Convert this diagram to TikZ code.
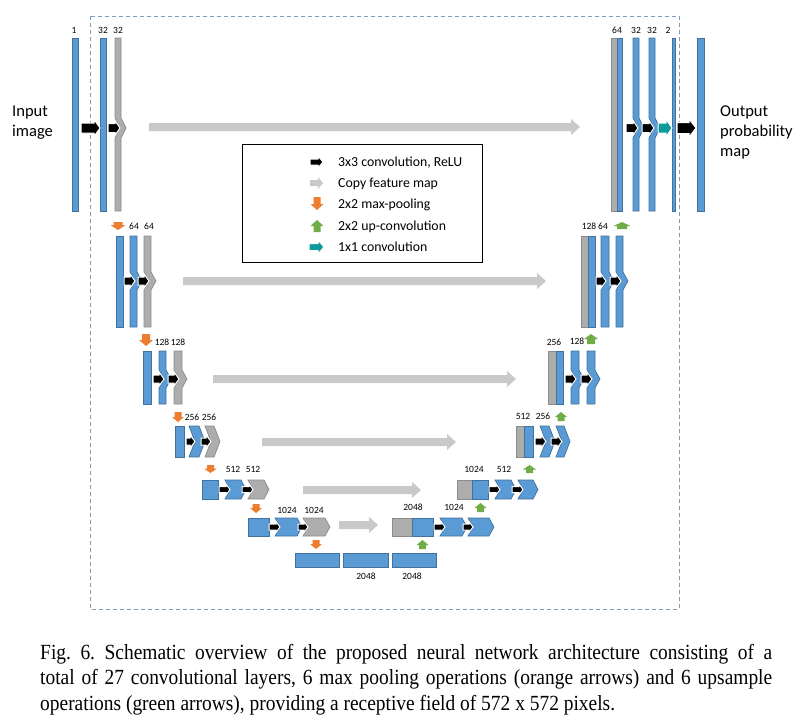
\documentclass[tikz,border=0pt]{standalone}
\usepackage{fontspec}
\setmainfont{Carlito}
\newfontfamily\capfont[FakeStretch=0.9]{Liberation Serif}
\usetikzlibrary{positioning}

\definecolor{fmblue}{HTML}{5B9BD5}
\definecolor{fmblueD}{HTML}{41719C}
\definecolor{fmgray}{HTML}{ADADAD}
\definecolor{fmgrayD}{HTML}{8C8C8C}
\definecolor{cpgray}{HTML}{C9C9C9}
\definecolor{poolor}{HTML}{ED7D31}
\definecolor{upgreen}{HTML}{70AD47}
\definecolor{outteal}{HTML}{0E9A9A}
\definecolor{boxblue}{HTML}{7F9DBB}

% feature map bar, chevron bar, block arrows (right, down, up)
\newcommand{\fmap}[5]{\draw[#5] (#1,#3) rectangle (#2,#4);}
\newcommand{\chev}[8]{\draw[#8] (#1,#3) -- (#2,#3) -- (#2,#5-#6) -- (#2+#7,#5) -- (#2,#5+#6) -- (#2,#4) -- (#1,#4) -- (#1,#5+#6) -- (#1+#7,#5) -- (#1,#5-#6) -- cycle;}
\newcommand{\harr}[7]{\draw[#7] (#1,#3-#4) -- (#2-#6,#3-#4) -- (#2-#6,#3-#5) -- (#2,#3) -- (#2-#6,#3+#5) -- (#2-#6,#3+#4) -- (#1,#3+#4) -- cycle;}
\newcommand{\darr}[7]{\draw[#7] (#1-#4,#2) -- (#1+#4,#2) -- (#1+#4,#3-#6) -- (#1+#5,#3-#6) -- (#1,#3) -- (#1-#5,#3-#6) -- (#1-#4,#3-#6) -- cycle;}
\newcommand{\uarr}[7]{\draw[#7] (#1-#4,#3) -- (#1+#4,#3) -- (#1+#4,#2+#6) -- (#1+#5,#2+#6) -- (#1,#2) -- (#1-#5,#2+#6) -- (#1-#4,#2+#6) -- cycle;}

\begin{document}
\frenchspacing
\begin{tikzpicture}[
  x=1pt,y=-1pt,
  bl/.style={fill=fmblue,draw=fmblueD,line width=0.7pt},
  gr/.style={fill=fmgray,draw=fmgrayD,line width=0.7pt},
  conv/.style={fill=black,draw=white,line width=1pt},
  cpy/.style={fill=cpgray,draw=none},
  pool/.style={fill=poolor,draw=none},
  upc/.style={fill=upgreen,draw=none},
  oneconv/.style={fill=outteal,draw=white,line width=1pt},
  lbl/.style={font=\fontsize{9.5}{11}\selectfont,inner sep=0pt},
  leg/.style={font=\fontsize{13.8}{16}\selectfont,inner sep=0pt,anchor=base west},
  side/.style={font=\fontsize{16.5}{20}\selectfont,inner sep=0pt,anchor=base west}
]
\useasboundingbox (0,0) rectangle (809,716);
\draw[boxblue,line width=0.9pt,dash pattern=on 4pt off 3pt] (90,16) rectangle (679,609);

% copy feature maps
\harr{149}{580}{127}{4}{8}{9}{cpy}
\harr{183}{546}{281}{4}{8}{9}{cpy}
\harr{213}{516}{379}{4}{8}{9}{cpy}
\harr{262}{456}{442}{4}{8}{9}{cpy}
\harr{303}{421}{490}{4}{8}{9}{cpy}
\harr{339}{378}{525}{4}{8}{9}{cpy}

% level 0
\fmap{72}{78}{38}{211}{bl}
\fmap{100}{106}{38}{211}{bl}
\chev{115}{121}{38}{211}{128}{10}{5}{gr}
\harr{81}{100}{128}{5}{8.5}{6}{conv}
\harr{108}{120}{128}{4.5}{7.5}{5}{conv}
\fmap{611}{617}{38}{211}{gr}
\fmap{617}{622}{38}{211}{bl}
\chev{633}{639}{38}{211}{128}{10}{5}{bl}
\chev{649}{655}{38}{211}{128}{10}{5}{bl}
\fmap{672}{675}{38}{211}{bl}
\fmap{697}{704}{38}{211}{bl}
\harr{626}{638}{128}{4.5}{7.5}{5}{conv}
\harr{642}{654}{128}{4.5}{7.5}{5}{conv}
\harr{658}{672}{128}{5}{9}{6}{oneconv}
\harr{677}{696}{128}{5.5}{9}{7}{conv}

% level 1
\fmap{116}{123}{236}{327}{bl}
\chev{130}{137}{236}{327}{281}{9}{5}{bl}
\chev{144}{151}{236}{327}{281}{9}{5}{gr}
\harr{124}{135}{281}{4}{7}{5}{conv}
\harr{138}{149}{281}{4}{7}{5}{conv}
\fmap{581}{588}{236}{327}{gr}
\fmap{588}{595}{236}{327}{bl}
\chev{601}{609}{236}{327}{281}{9}{5}{bl}
\chev{616}{623}{236}{327}{281}{9}{5}{bl}
\harr{596}{606}{281}{4}{7}{5}{conv}
\harr{610}{621}{281}{4}{7}{5}{conv}

% level 2
\fmap{143}{151}{351}{404}{bl}
\chev{159}{166}{351}{404}{379}{9}{5}{bl}
\chev{174}{182}{351}{404}{379}{9}{5}{gr}
\harr{153}{164}{379}{4}{7}{5}{conv}
\harr{168}{179}{379}{4}{7}{5}{conv}
\fmap{548}{556}{351}{404}{gr}
\fmap{556}{563}{351}{404}{bl}
\chev{571}{579}{351}{404}{379}{9}{5}{bl}
\chev{587}{595}{351}{404}{379}{9}{5}{bl}
\harr{565}{576}{379}{4}{7}{5}{conv}
\harr{581}{592}{379}{4}{7}{5}{conv}

% level 3
\fmap{175}{184}{426}{457}{bl}
\chev{189}{199}{426}{457}{441.5}{15.5}{6}{bl}
\chev{205}{214}{426}{457}{441.5}{15.5}{6}{gr}
\harr{186}{195}{441.5}{3.5}{6.5}{5}{conv}
\harr{201}{211}{441.5}{3.5}{6.5}{5}{conv}
\fmap{516}{524}{426}{457}{gr}
\fmap{524}{533}{426}{457}{bl}
\chev{540}{549}{426}{457}{441.5}{15.5}{6}{bl}
\chev{556}{564}{426}{457}{441.5}{15.5}{6}{bl}
\harr{535}{546}{441.5}{3.5}{6.5}{5}{conv}
\harr{551}{562}{441.5}{3.5}{6.5}{5}{conv}

% level 4
\fmap{202}{218}{480}{499}{bl}
\chev{225}{241}{480}{499}{489.5}{9.5}{5}{bl}
\chev{248}{264}{480}{499}{489.5}{9.5}{5}{gr}
\harr{219}{230}{489.5}{3}{5.5}{4}{conv}
\harr{242}{253}{489.5}{3}{5.5}{4}{conv}
\fmap{457}{472}{480}{499}{gr}
\fmap{472}{488}{480}{499}{bl}
\chev{495}{511}{480}{499}{489.5}{9.5}{5}{bl}
\chev{518}{533}{480}{499}{489.5}{9.5}{5}{bl}
\harr{489}{500}{489.5}{3}{5.5}{4}{conv}
\harr{512}{523}{489.5}{3}{5.5}{4}{conv}

% level 5
\fmap{248}{269}{518}{536}{bl}
\chev{275}{297}{518}{536}{527}{9}{5}{bl}
\chev{303}{325}{518}{536}{527}{9}{5}{gr}
\harr{269}{280}{527}{3}{5.5}{4}{conv}
\harr{298}{308}{527}{3}{5.5}{4}{conv}
\fmap{392}{412}{518}{536}{gr}
\fmap{412}{433}{518}{536}{bl}
\chev{440}{462}{518}{536}{527}{9}{5}{bl}
\chev{468}{489}{518}{536}{527}{9}{5}{bl}
\harr{434}{445}{527}{3}{5.5}{4}{conv}
\harr{463}{473}{527}{3}{5.5}{4}{conv}

% level 6
\fmap{295}{339}{553}{567}{bl}
\fmap{343}{388}{553}{567}{bl}
\fmap{392}{436}{553}{567}{bl}

% max-pooling and up-convolution
\darr{118}{222}{230}{4.5}{7.5}{5}{pool}
\darr{146}{334}{346}{4}{7}{6}{pool}
\darr{178}{412}{422}{3.5}{6}{5}{pool}
\darr{210.5}{465}{473}{3.5}{6.5}{4.5}{pool}
\darr{256}{504}{513}{3.5}{6}{5}{pool}
\darr{316}{540}{549}{3.5}{6}{5}{pool}
\uarr{422.5}{540}{549}{3.5}{6}{5}{upc}
\uarr{480.5}{503}{512}{3.5}{6}{5}{upc}
\uarr{529.5}{465}{473}{3.5}{6.5}{4.5}{upc}
\uarr{561}{412}{421}{3.5}{6}{5}{upc}
\uarr{591}{334}{344}{4}{7}{5}{upc}
\uarr{622}{222}{229}{5}{8.5}{4}{upc}

% channel counts
\foreach \x/\y/\t [count=\i] in {74/30/1,103/30/32,118/30/32,617/30/64,636/30/32,652/30/32,668/30/2,
  134/226/64,149/226/64,589/226/128,603/226/64,
  162/342/128,178/342/128,554/342/256,577/341/128,
  192/417/256,209/417/256,523/416/512,543/416/256,
  233/469/512,253/469/512,474/469/1024,504/469/512,
  287/510/1024,314/510/1024,413/507/2048,454/507/1024,
  366/576/2048,412/576/2048}
  \node[lbl] (ch\i) at (\x,\y) {\t};

\node[side] (inp1) at (12,116) {Input};
\node[side] (inp2) at (12,136) {image};
\node[side] (outp1) at (720,116) {Output};
\node[side] (outp2) at (720,136) {probability};
\node[side] (outp3) at (720,156) {map};

% legend
\draw[black,line width=0.9pt] (242,144) rectangle (482,262);
\harr{310}{323}{162}{3}{6}{5}{conv}
\harr{310}{323}{183}{3}{6}{5}{cpy}
\darr{317}{197}{210}{3.5}{6.5}{6}{pool}
\uarr{317}{220}{232}{3.5}{6.5}{6}{upc}
\harr{309}{324}{247}{3.5}{7}{6}{oneconv}
\node[leg] (lg1) at (338,166.5) {3x3 convolution, ReLU};
\node[leg] (lg2) at (338,187.5) {Copy feature map};
\node[leg] (lg3) at (338,208.5) {2x2 max-pooling};
\node[leg] (lg4) at (338,230) {2x2 up-convolution};
\node[leg] (lg5) at (338,251.5) {1x1 convolution};

% caption
\begin{scope}[every node/.style={anchor=base west,inner sep=0pt,font=\capfont\fontsize{21.6}{25}\selectfont}]
\node (cap1) at (40,659) {\hbox to 732pt{Fig. 6. Schematic overview of the proposed neural network architecture consisting of a}};
\node (cap2) at (40,684.5) {\hbox to 732pt{total of 27 convolutional layers, 6 max pooling operations (orange arrows) and 6 upsample}};
\node (cap3) at (40,710) {operations (green arrows), providing a receptive field of 572 x 572 pixels.};
\end{scope}
\end{tikzpicture}
\end{document}
